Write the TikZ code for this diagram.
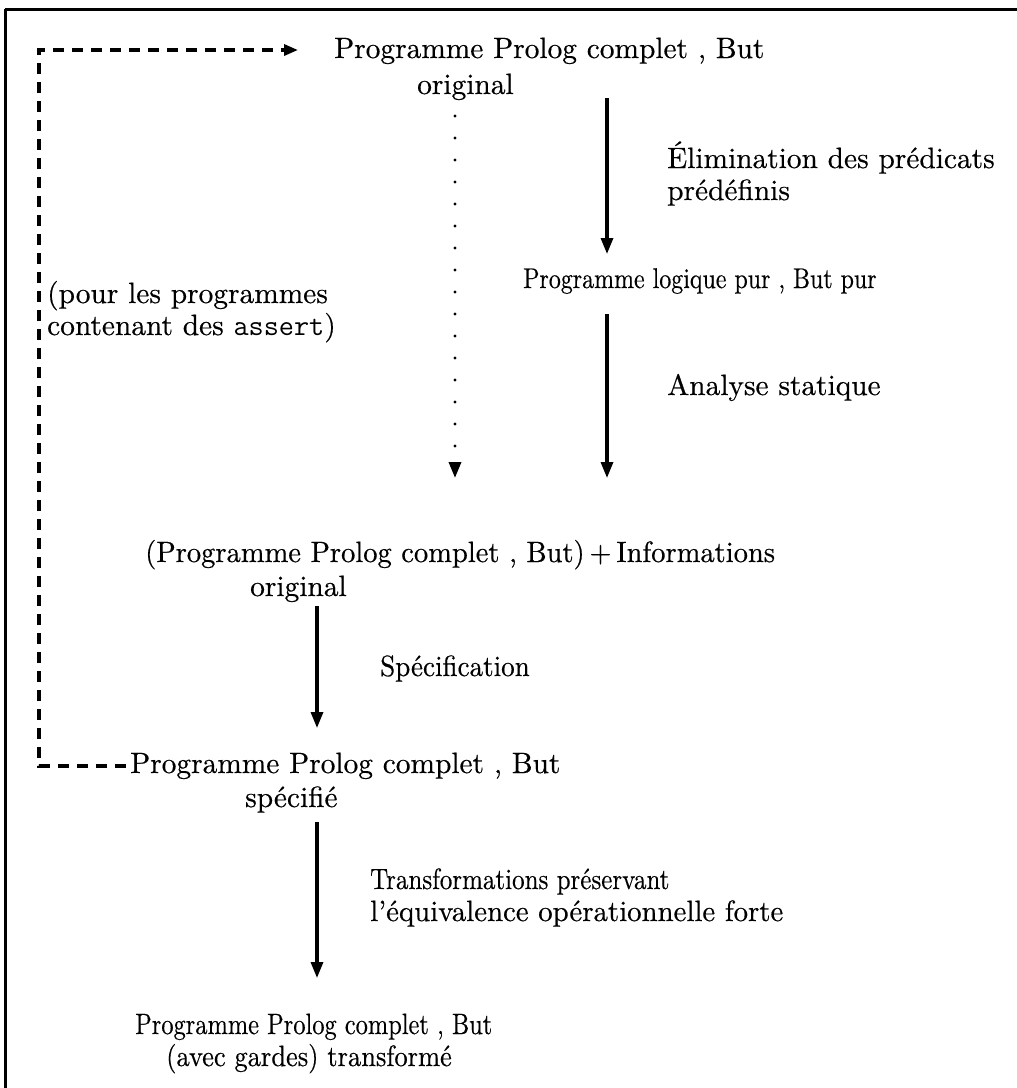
\documentclass[tikz,border=0pt]{standalone}
\usepackage{fontspec}
\usepackage{graphicx}
\setmainfont{lmroman10-regular.otf}[FakeBold=0.4]
\usetikzlibrary{arrows.meta}
\newcommand{\narrow}[2]{\scalebox{#1}[1]{#2}}
\begin{document}
\begin{tikzpicture}[x=1pt,y=-1pt,
  txt/.style={anchor=base west,inner sep=0pt,align=left,
    font=\fontsize{29.4}{32}\selectfont},
  flow/.style={line width=3.2pt,-{Triangle[length=16pt,width=12pt]}},
  dotflow/.style={line width=3.4pt,line cap=round,dash pattern=on 0pt off 22pt,
    -{Triangle[length=16pt,width=12pt]}},
  loopline/.style={line width=3.2pt,dash pattern=on 11pt off 8pt},
  frameline/.style={line width=3pt}]
\useasboundingbox (0,0) rectangle (1017,1088);

% frame (top and left edges)
\draw[frameline] (5,9) -- (1017,9);
\draw[frameline] (5,9) -- (5,1088);

% labels
\node[txt] (p0) at (334,58) {Programme Prolog complet , But};
\node[txt] (p0o) at (417,94) {original};
\node[txt] (elim) at (667,200) {Élimination des prédicats\\prédéfinis};
\node[txt,font=\fontsize{28.5}{32}\selectfont] (pur) at (523,288) {\narrow{0.84}{Programme logique pur , But pur}};
\node[txt] (stat) at (667,395) {Analyse statique};
\node[txt] (assert) at (47,335) {(pour les programmes\\contenant des \texttt{assert})};
\node[txt] (info) at (145,562) {\narrow{0.97}{(Programme Prolog complet , But)\,+\,Informations}};
\node[txt] (infoo) at (250,596) {original};
\node[txt] (spec) at (380,676) {\narrow{0.92}{Spécification}};
\node[txt] (ps) at (130,773) {Programme Prolog complet , But};
\node[txt] (pso) at (245,807) {spécifié};
\node[txt] (trans1) at (370,889) {\narrow{0.85}{Transformations préservant}};
\node[txt] (trans2) at (370,921) {\narrow{0.98}{l'équivalence opérationnelle forte}};
\node[txt] (pt) at (135,1034) {\narrow{0.83}{Programme Prolog complet , But}};
\node[txt] (pto) at (166,1066) {\narrow{0.9}{(avec gardes) transformé}};

% arrow end points
\coordinate (a1s) at (607,98);
\coordinate (a1e) at (607,254);
\coordinate (ds) at (455,116);
\coordinate (de) at (455,478);
\coordinate (a2s) at (607,314);
\coordinate (a2e) at (607,478);
\coordinate (a3s) at (317,606);
\coordinate (a3e) at (317,728);
\coordinate (a4s) at (317,822);
\coordinate (a4e) at (317,978);
\coordinate (lb) at (126,766);
\coordinate (lc1) at (39,766);
\coordinate (lc2) at (39,50);
\coordinate (lt) at (298,50);

% connectors
\draw[flow] (a1s) -- (a1e);
\draw[dotflow] (ds) -- (de);
\draw[flow] (a2s) -- (a2e);
\draw[flow] (a3s) -- (a3e);
\draw[flow] (a4s) -- (a4e);
\draw[loopline,-{Triangle[length=14pt,width=11pt]}] (lb) -- (lc1) -- (lc2) -- (lt);
\end{tikzpicture}
\end{document}
